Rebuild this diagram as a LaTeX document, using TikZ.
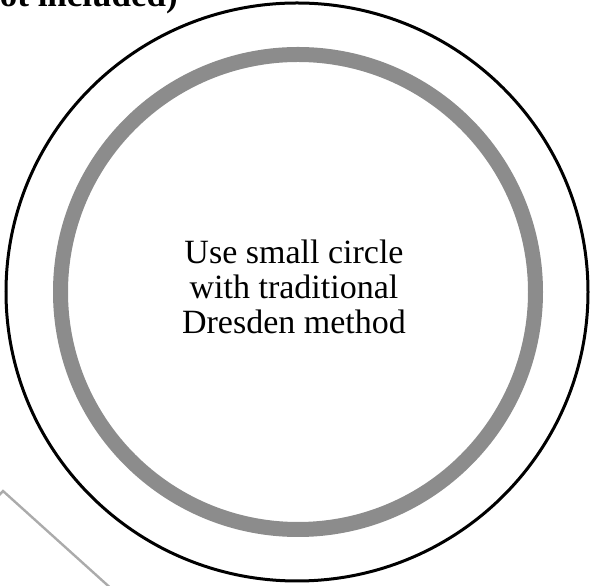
\documentclass[tikz,border=0pt]{standalone}
\usepackage{fontspec}
\setmainfont{Liberation Serif}
\begin{document}
\begin{tikzpicture}[
        x=1pt, y=1pt,
        rim/.style={draw=black, line width=3pt},
        ring/.style={draw=black!45, line width=15pt},
        remark/.style={align=center, inner sep=0pt, font=\fontsize{34}{35}\selectfont},
        caption/.style={anchor=base east, inner sep=0pt, font=\fontsize{35}{40}\selectfont\bfseries},
        edgeline/.style={draw=black!33, line width=2.4pt},
    ]
        \useasboundingbox (0,0) rectangle (590,586);
        \draw[rim] (297,294) ellipse [x radius=291, y radius=289];
        \draw[ring] (298,294) circle [radius=237.5];
        \node[remark] (method) at (294,299.5) {Use small circle\\with traditional\\Dresden method};
        % heading above the picture, cut by the page edge
        \node[caption] (note) at (178,579) {not included)};
        \coordinate (corner) at (3,95);
        \draw[edgeline] (-8,83) -- (corner) -- (115,-6);
    \end{tikzpicture}
\end{document}
